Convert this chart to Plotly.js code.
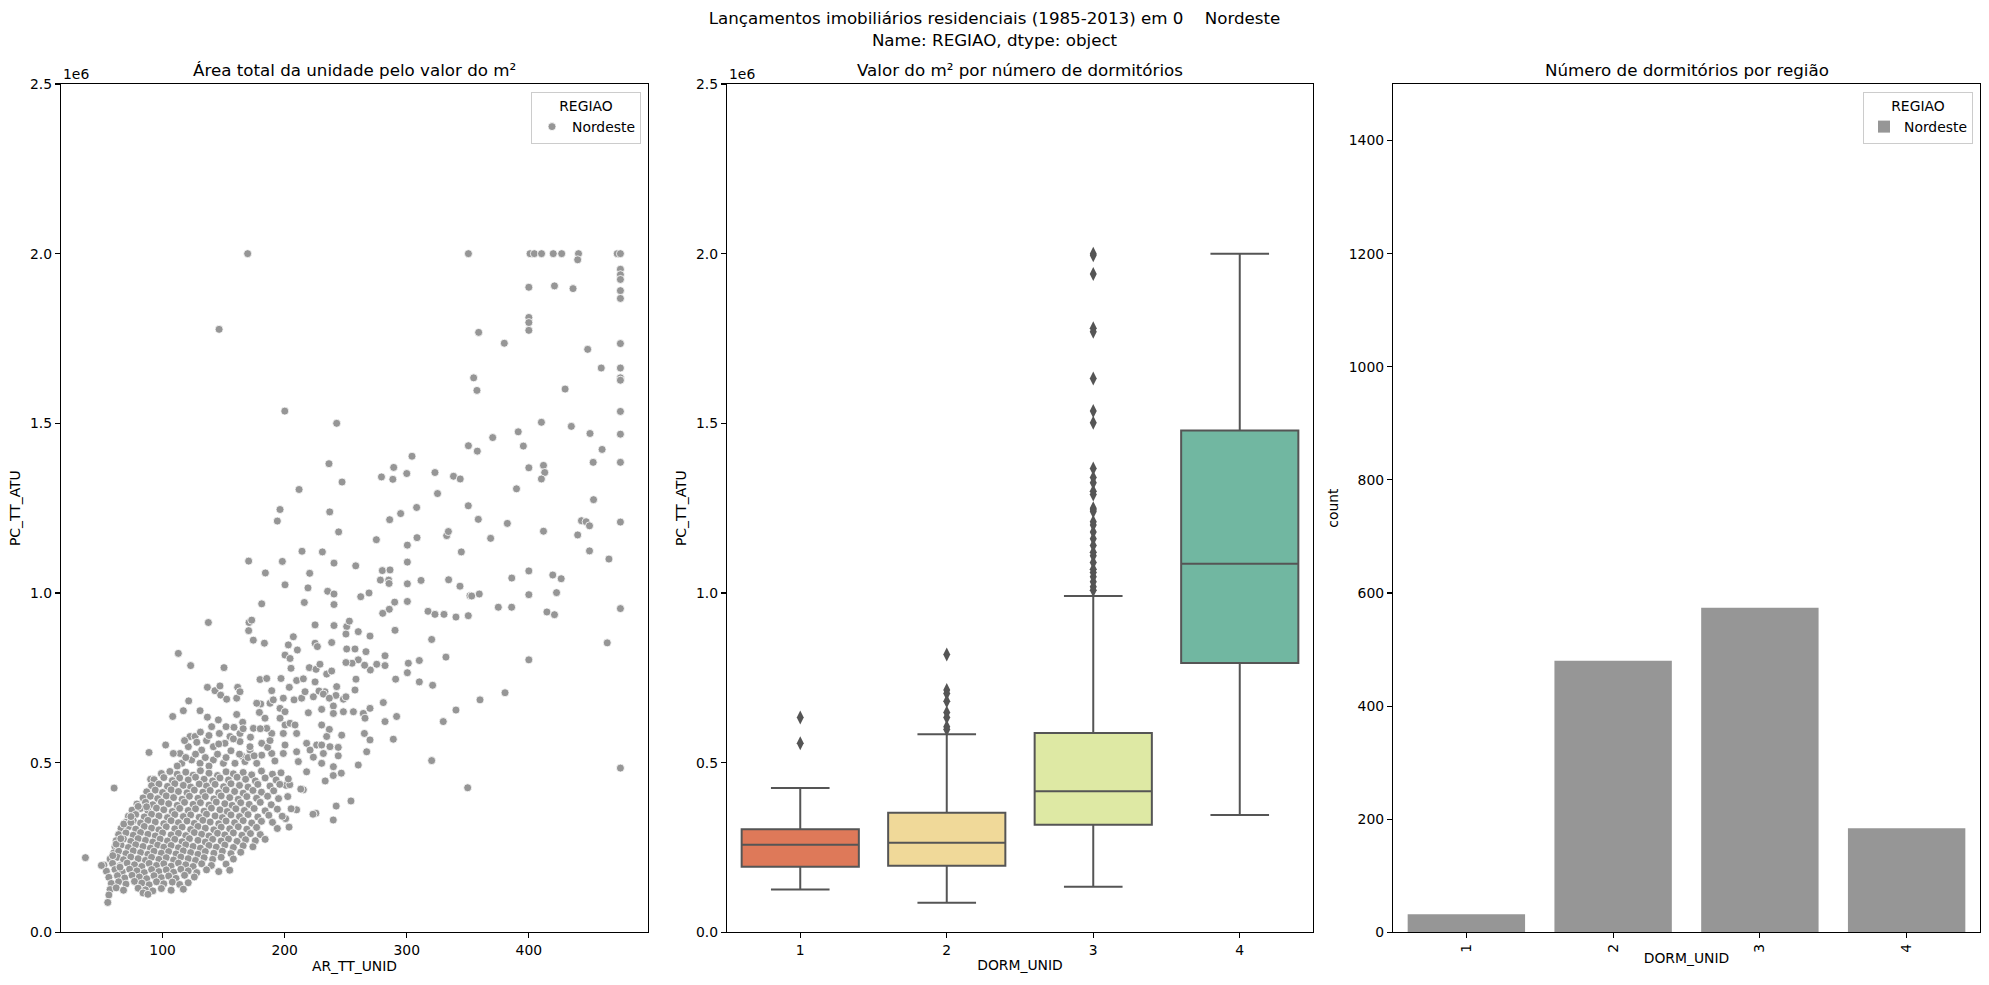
<!DOCTYPE html>
<html>
<head>
<meta charset="utf-8">
<script src="https://cdn.plot.ly/plotly-3.0.1.min.js"></script>
<style>
  html, body { margin: 0; padding: 0; background: #ffffff; }
  #chart { width: 1989px; height: 985px; }
</style>
</head>
<body>
<div id="chart"></div>
<script>
// ---------------- data ----------------
const regiao = 'Nordeste';
const dormitorios = ['1', '2', '3', '4'];

// units launched per number of bedrooms
const contagemDorm = [32, 480, 574, 184];

// price distribution per number of bedrooms (R$ millions)
const q1Dorm = [0.193, 0.196, 0.317, 0.794];
const medianaDorm = [0.258, 0.264, 0.416, 1.086];
const q3Dorm = [0.304, 0.352, 0.587, 1.479];
const bigodeInf = [0.126, 0.087, 0.134, 0.346];
const bigodeSup = [0.425, 0.584, 0.991, 2.0];
const atipicos1 = [0.633, 0.557];
const atipicos2 = [0.819, 0.714, 0.704, 0.681, 0.648, 0.633, 0.606, 0.598];
const atipicos3 = [2.0, 1.995, 1.94, 1.78, 1.77, 1.632, 1.536, 1.502, 1.367, 1.34, 1.325, 1.30, 1.29,
                   1.25, 1.245, 1.24, 1.21, 1.20, 1.18, 1.16, 1.14, 1.12, 1.11, 1.09, 1.07, 1.06,
                   1.048, 1.033, 1.018, 1.008];
const atipicos4 = [];
const coresDorm = ['#de7959', '#f0d999', '#dee9a4', '#71b7a1'];

// unit area (m²) vs. price (R$ millions)
const pontosAltos = [
  [169.7,2.0],[146.3,1.777],[350.5,2.0],[401,2.0],[404.5,2.0],[410.4,2.0],[420,2.0],[426.9,2.0],
  [440.7,2.0],[440,1.982],[472.4,2.0],[475,2.0],[475,1.954],[475,1.938],[475,1.924],[475,1.891],
  [475,1.868],[400,1.901],[421,1.905],[436.2,1.897],[400,1.812],[400,1.797],[400,1.774],[358.9,1.768],
  [379.9,1.736],[448.2,1.718],[475,1.735],[354.8,1.634],[357.5,1.597],[459.3,1.663],[475,1.663],
  [475,1.634],[475,1.627],[429.7,1.601],[200.1,1.536],[242.6,1.5],[410.3,1.503],[434.8,1.491],
  [475,1.535],[391.3,1.475],[450.1,1.47],[475,1.468],[370.4,1.458],[350.5,1.434],[357.8,1.418],
  [395.5,1.433],[460,1.423],[304.3,1.403],[236.3,1.381],[452.7,1.385],[475,1.385],[400,1.369],
  [412,1.376],[413,1.355],[289.3,1.37],[279.3,1.342],[288.6,1.335],[300,1.352],[323.1,1.355],
  [338.3,1.344],[343.8,1.336],[247,1.327],[211.8,1.305],[325.2,1.293],[389.9,1.307],[410.3,1.336],
  [453,1.275]
];

const pontosMedios = [
  [194,1.212],[196.2,1.246],[236.9,1.239],[244.2,1.18],[286,1.216],[295,1.234],[308.1,1.252],
  [275.1,1.157],[308.4,1.163],[350.4,1.257],[358.6,1.217],[382.4,1.205],[368.7,1.161],[332.7,1.169],
  [334.1,1.181],[344.7,1.121],[300.5,1.141],[300.5,1.091],[170.5,1.094],[198.1,1.093],[214.2,1.123],
  [230.9,1.121],[240.4,1.088],[258.2,1.08],[280,1.066],[286.3,1.068],[300.5,1.027],[311.7,1.037],
  [334.3,1.039],[343.6,1.02],[351.8,0.992],[353.2,0.991],[359.4,0.997],[375,0.958],[385.9,0.958],
  [278.4,1.038],[285.2,1.038],[285.5,1.028],[184.2,1.059],[200.3,1.024],[220.5,1.058],[219.1,1.015],
  [235.2,1.005],[240.4,0.997],[240.4,0.966],[262.3,0.989],[269.1,1.0],[300.5,0.975],[290.1,0.973],
  [285.7,0.952],[280.3,0.94],[317.4,0.946],[323.1,0.937],[330.5,0.937],[340.3,0.929],[350.4,0.933],
  [181.2,0.968],[216.1,0.972],[386,1.044],
  [400,1.065],[400,0.995],[419.6,1.053],[426.5,1.042],[422.7,1.001],[414.8,0.944],[421,0.936],
  [475,0.954],[400,0.803],[464.2,0.853],[475,0.484],[412,1.182],[440,1.171],[443.1,1.213],
  [446.9,1.21],[449.7,1.198],[449.7,1.124],[465.6,1.1],[475,1.209],[349.9,0.426],
  [137.5,0.913],[170.8,0.913],[173,0.92],[224.9,0.906],[240.4,0.904],[250.8,0.901],[253,0.917],
  [170.5,0.889],[174.3,0.861],[183.4,0.852],[250.2,0.879],[260.3,0.886],[269.9,0.873],[290.4,0.89],
  [320.4,0.863],[332.1,0.811],[301.3,0.793],[310.3,0.801],[300.5,0.765],[310.3,0.738],[321.2,0.728],
  [290.9,0.746],[282.2,0.815],[282.2,0.786],[275.4,0.79],[270.2,0.773],[265.5,0.787],[260.3,0.803],
  [255.2,0.793],[250.2,0.795],
  [207.1,0.871],[203,0.847],[210.4,0.832],[200.3,0.817],[204.4,0.807],[205.2,0.778],[224.9,0.852],
  [226.8,0.842],[238.5,0.854],[250.8,0.835],[257.6,0.835],[266.6,0.827],
  [220.2,0.78],[225.7,0.775],[234.4,0.761],[238.5,0.77],[228.9,0.79],[258.4,0.746],
  [179.8,0.745],[185.3,0.748],[197,0.748],[203.8,0.722],[209.8,0.742],[215.3,0.747],[224.9,0.738],
  [233,0.709],[242,0.698],[257.6,0.714],[242.6,0.724],[248.1,0.687],[250.2,0.694],
  [189.4,0.712],[188,0.675],[190.7,0.685],[198.9,0.69],[207.7,0.685],[213.9,0.69],[216.7,0.709],
  [223.5,0.694],[228.1,0.711],[231.7,0.702],[236.6,0.69],
  [180.4,0.673],[183.9,0.631],[174.4,0.601],[165.6,0.619],[160.7,0.642],[179.3,0.648],[177.1,0.675],
  [196.2,0.66],[200.3,0.65],[196.2,0.631],
  [200.3,0.611],[204.4,0.616],[208.5,0.611],[209.8,0.586],[198.9,0.586],[189.4,0.586],[185.3,0.601],
  [200.3,0.552],[198.9,0.527],[189.4,0.527],[181.2,0.522],[177.1,0.498],[165.6,0.518],[171.6,0.537],
  [181.2,0.557],
  [219.4,0.647],[230.3,0.657],[239.9,0.667],[248.1,0.65],[256.3,0.65],[239.9,0.645],[264.4,0.645],
  [269.9,0.66],[280.8,0.677],[291.7,0.636],[282.2,0.621],[265.8,0.631],[265.3,0.586],[269.9,0.567],
  [246.7,0.581],[236.6,0.598],[230.3,0.611],[218,0.557],[220.8,0.537],[226.2,0.552],[230.3,0.552],
  [231.7,0.527],[237.1,0.547],[243.9,0.545],[243.9,0.52],[234.4,0.577],[209.8,0.532],[211.2,0.503],
  [223.5,0.516],[230.3,0.498],[239.9,0.488],[260.3,0.493],[267.2,0.532],[289,0.569],[320.4,0.506],
  [329.9,0.621],[340.3,0.655],[360,0.685],[380.5,0.706],
  [136.7,0.722],[142.9,0.712],[147,0.726],[147.6,0.699],[152.5,0.687],[160.7,0.69],[161.5,0.722],
  [163.4,0.709],[112.9,0.822],[123,0.786],[150.3,0.78],
  [121.4,0.682],[130.7,0.653],[117,0.653],[108.3,0.636],[136.7,0.634],[145.7,0.626],[152,0.606],
  [158.5,0.604],[140.2,0.606],[146.5,0.586],[155.2,0.577],[163.4,0.586],[163.4,0.562],[171.6,0.547],
  [151.1,0.557],[141.6,0.547],[132,0.537],[122.5,0.577],[126.6,0.577],[121.1,0.547],[114.3,0.527],
  [108.8,0.527],[130.7,0.498],[141.6,0.508],[149.8,0.498],[159.3,0.498],[167.5,0.503],[123.8,0.508],
  [115.7,0.498],
  [112,0.49],[119,0.515],[127,0.525],[135,0.515],[138,0.49],[145,0.525],[152,0.515],[156,0.535],
  [163,0.525],[170,0.515],[175,0.52],[186,0.545],[192,0.505],[128,0.56],[136,0.565],[146,0.555],
  [158,0.57],[166,0.6],[172,0.575],[180,0.6],[188,0.565],[118,0.565],[131,0.59],[138,0.58],
  [242.2,0.372],[239.8,0.331],[254.3,0.387],[225.6,0.351],[223.2,0.348],[215.3,0.42],[213.2,0.422],
  [209.8,0.361],[203.6,0.31],[200.8,0.335],[205.3,0.364],[202.5,0.4],[201.1,0.433],[204.2,0.435],
  [218,0.473],[233.2,0.446],[239.8,0.462],[246.4,0.469],
  [60.3,0.425],[88.9,0.53],[102.5,0.552],[90.2,0.451]
];

const pontosNucleo = [
  [99,.468],[106,.474],[112,.466],[119,.472],[125,.463],[131,.476],[138,.469],[145,.462],[152,.473],
  [158,.467],[166,.471],[173,.464],[181,.475],[190,.466],[197,.470],
  [93,.450],[101,.456],[108,.447],[114,.455],[121,.449],[127,.457],[134,.451],[141,.446],[147,.455],
  [154,.449],[161,.457],[168,.451],[176,.446],[184,.455],[193,.449],[203,.452],
  [91,.432],[97,.437],[104,.430],[110,.438],[117,.433],[123,.428],[130,.437],[136,.431],[143,.436],
  [150,.429],[156,.438],[163,.433],[170,.428],[178,.436],[188,.431],[196,.436],
  [87,.414],[94,.419],[100,.412],[107,.420],[113,.415],[120,.411],[126,.419],[133,.413],[139,.418],
  [146,.411],[152,.420],[159,.415],[166,.410],[174,.418],[181,.413],[191,.417],
  [84,.396],[90,.401],[96,.394],[103,.402],[109,.397],[116,.392],[122,.401],[129,.395],[135,.400],
  [142,.393],[148,.402],[155,.397],[162,.392],[169,.400],[177,.395],[186,.401],[195,.394],
  [79,.378],[86,.383],[92,.376],[99,.384],[105,.379],[112,.374],[118,.383],[125,.377],[131,.382],
  [138,.375],[144,.384],[151,.379],[157,.374],[164,.382],[171,.377],[180,.383],[189,.376],
  [75,.360],[82,.365],[88,.358],[95,.366],[101,.361],[108,.356],[114,.365],[121,.359],[127,.364],
  [134,.357],[140,.366],[147,.361],[153,.356],[160,.364],[167,.359],[175,.365],[184,.358],[194,.363],
  [72,.342],[78,.347],[85,.340],[91,.348],[97,.343],[104,.338],[110,.347],[117,.341],[123,.346],
  [130,.339],[136,.348],[143,.343],[149,.338],[156,.346],[163,.341],[170,.347],[178,.340],[187,.345],
  [198,.342],
  [70,.324],[76,.329],[82,.322],[88,.330],[94,.325],[101,.320],[107,.329],[113,.323],[120,.328],
  [126,.321],[133,.330],[139,.325],[146,.320],[152,.328],[159,.323],[166,.329],[173,.322],[181,.327],
  [190,.324],
  [66,.306],[72,.311],[78,.304],[85,.312],[91,.307],[97,.302],[103,.311],[110,.305],[116,.310],
  [123,.303],[129,.312],[135,.307],[142,.302],[148,.310],[155,.305],[162,.311],[169,.304],[177,.309],
  [194,.306],
  [64,.288],[70,.293],[76,.286],[82,.294],[88,.289],[94,.284],[100,.293],[107,.287],[113,.292],
  [119,.285],[126,.294],[132,.289],[138,.284],[145,.292],[151,.287],[158,.293],[165,.286],[172,.291],
  [180,.288],
  [62,.270],[68,.275],[74,.268],[80,.276],[86,.271],[92,.266],[98,.275],[104,.269],[110,.274],
  [116,.267],[122,.276],[129,.271],[135,.266],[141,.274],[148,.269],[154,.275],[161,.268],[168,.273],
  [176,.270],[184,.274],
  [61,.252],[66,.257],[72,.250],[78,.258],[84,.253],[90,.248],[96,.257],[101,.251],[107,.256],
  [113,.249],[119,.258],[125,.253],[131,.248],[138,.256],[144,.251],[151,.257],[158,.250],[166,.255],
  [174,.252],
  [60,.234],[64,.239],[70,.232],[76,.240],[82,.235],[88,.230],[93,.239],[99,.233],[105,.238],
  [111,.231],[117,.240],[123,.235],[129,.230],[135,.238],[142,.233],[149,.239],[156,.232],[164,.236],
  [57,.216],[63,.221],[68,.214],[74,.222],[80,.217],[86,.212],[91,.221],[97,.215],[103,.220],
  [109,.213],[115,.222],[121,.217],[127,.212],[134,.220],[141,.215],[148,.221],[158,.216],
  [52,.198],[59,.203],[65,.196],[71,.204],[77,.199],[83,.194],[89,.203],[95,.197],[101,.202],
  [107,.195],[113,.204],[119,.199],[125,.194],[132,.202],[140,.197],[152,.201],
  [54,.180],[61,.185],[67,.178],[73,.186],[79,.181],[85,.176],[91,.185],[97,.179],[103,.184],
  [109,.177],[115,.186],[121,.181],[128,.176],[136,.184],[146,.179],[155,.183],
  [56,.162],[63,.167],[69,.160],[75,.168],[81,.163],[87,.158],[93,.167],[99,.161],[105,.166],
  [111,.159],[118,.168],[126,.163],
  [58,.144],[64,.149],[70,.142],[77,.150],[83,.145],[89,.140],[95,.149],[101,.143],[108,.148],
  [114,.141],[121,.146],
  [57,.126],[62,.131],[68,.124],[80,.130],[86,.125],[92,.122],[99,.129],[107,.124],[117,.127],
  [56,.110],[84,.116],[88,.112],[55.1,.088],
  [36.8,.220],[49.9,.197],[59.2,.226],[65.1,.192],[62,.260],[65.8,.276],[68.2,.319],[74.1,.324],
  [74.1,.341],[80,.371],[86.9,.370]
];

// ---------------- drawing ----------------
const pontos = pontosAltos.concat(pontosMedios, pontosNucleo);
const cinza = '#969696';
const linhaBox = '#555555';
const fonte = { family: 'DejaVu Sans, sans-serif', size: 13.9, color: '#000000' };
const fonteTitulo = { family: 'DejaVu Sans, sans-serif', size: 16.7, color: '#000000' };

const traces = [];

// scatter: area vs price
traces.push({
  type: 'scatter', mode: 'markers', xaxis: 'x', yaxis: 'y',
  x: pontos.map(p => p[0]), y: pontos.map(p => p[1]),
  name: regiao, legend: 'legend',
  marker: { color: cinza, size: 8, line: { color: '#ffffff', width: 0.8 } },
  hoverinfo: 'skip'
});

// boxes: price per bedroom count
dormitorios.forEach((d, i) => {
  traces.push({
    type: 'box', xaxis: 'x2', yaxis: 'y2',
    x: [d], q1: [q1Dorm[i]], median: [medianaDorm[i]], q3: [q3Dorm[i]],
    lowerfence: [bigodeInf[i]], upperfence: [bigodeSup[i]],
    fillcolor: coresDorm[i], line: { color: linhaBox, width: 2 },
    width: 0.8, whiskerwidth: 0.5, boxpoints: false,
    showlegend: false, hoverinfo: 'skip'
  });
});

const atipicos = [atipicos1, atipicos2, atipicos3, atipicos4];
const atipX = [], atipY = [];
atipicos.forEach((lista, i) => lista.forEach(v => { atipX.push(dormitorios[i]); atipY.push(v); }));
traces.push({
  type: 'scatter', mode: 'markers', xaxis: 'x2', yaxis: 'y2',
  x: atipX, y: atipY, showlegend: false, hoverinfo: 'skip',
  marker: { symbol: 'diamond-tall', color: linhaBox, size: 10, line: { width: 0 } }
});

// bars: count per bedroom number
traces.push({
  type: 'bar', xaxis: 'x3', yaxis: 'y3',
  x: dormitorios, y: contagemDorm, width: 0.8,
  name: regiao, legend: 'legend2',
  marker: { color: cinza, line: { width: 0 } },
  hoverinfo: 'skip'
});

const W = 1989, H = 985;
const dom = (a, b) => [a / W, b / W];
const yDom = [(H - 932.3) / H, (H - 84) / H];

const eixo = {
  showline: true, linecolor: '#000000', linewidth: 1.1, mirror: true,
  ticks: 'outside', ticklen: 5, tickwidth: 1.1, tickcolor: '#000000',
  showgrid: false, zeroline: false, tickfont: fonte, fixedrange: true
};
const eixoMilhoes = Object.assign({}, eixo, {
  range: [0, 2.5], tickvals: [0, 0.5, 1.0, 1.5, 2.0, 2.5], tickformat: '.1f'
});

const layout = {
  width: W, height: H,
  margin: { l: 0, r: 0, t: 0, b: 0 },
  paper_bgcolor: '#ffffff', plot_bgcolor: '#ffffff',
  font: fonte, hovermode: false, boxmode: 'overlay',
  title: {
    text: 'Lançamentos imobiliários residenciais (1985-2013) em 0\u00a0\u00a0\u00a0\u00a0Nordeste<br>Name: REGIAO, dtype: object',
    font: fonteTitulo, x: 0.5, xanchor: 'center', y: 1 - 24 / H, yanchor: 'top'
  },
  xaxis: Object.assign({}, eixo, {
    domain: dom(61, 648), range: [16.8, 497.6], tickvals: [100, 200, 300, 400],
    title: { text: 'AR_TT_UNID', font: fonte, standoff: 3 }
  }),
  yaxis: Object.assign({}, eixoMilhoes, {
    domain: yDom, title: { text: 'PC_TT_ATU', font: fonte, standoff: 6 }
  }),
  xaxis2: Object.assign({}, eixo, {
    domain: dom(727, 1313), type: 'category', categoryorder: 'array', categoryarray: dormitorios,
    range: [-0.5, 3.5], title: { text: 'DORM_UNID', font: fonte, standoff: 3 }
  }),
  yaxis2: Object.assign({}, eixoMilhoes, {
    domain: yDom, anchor: 'x2', title: { text: 'PC_TT_ATU', font: fonte, standoff: 6 }
  }),
  xaxis3: Object.assign({}, eixo, {
    domain: dom(1393, 1980), type: 'category', categoryorder: 'array', categoryarray: dormitorios,
    range: [-0.5, 3.5], tickangle: -90, title: { text: 'DORM_UNID', font: fonte, standoff: 1 }
  }),
  yaxis3: Object.assign({}, eixo, {
    domain: yDom, anchor: 'x3', range: [0, 1500], tickvals: [0, 200, 400, 600, 800, 1000, 1200, 1400],
    title: { text: 'count', font: fonte, standoff: 6 }
  }),
  legend: {
    x: 641 / W, xanchor: 'right', y: (H - 92) / H, yanchor: 'top',
    bgcolor: 'rgba(255,255,255,0.8)', bordercolor: '#cccccc', borderwidth: 1,
    font: fonte, title: { text: 'REGIAO', font: fonte, side: 'top center' }
  },
  legend2: {
    x: 1973 / W, xanchor: 'right', y: (H - 92) / H, yanchor: 'top',
    bgcolor: 'rgba(255,255,255,0.8)', bordercolor: '#cccccc', borderwidth: 1,
    font: fonte, title: { text: 'REGIAO', font: fonte, side: 'top center' }
  },
  annotations: [
    { text: 'Área total da unidade pelo valor do m²', x: (61 + 648) / 2 / W, y: (H - 70) / H,
      xref: 'paper', yref: 'paper', xanchor: 'center', yanchor: 'middle', showarrow: false, font: fonteTitulo },
    { text: 'Valor do m² por número de dormitórios', x: (727 + 1313) / 2 / W, y: (H - 70) / H,
      xref: 'paper', yref: 'paper', xanchor: 'center', yanchor: 'middle', showarrow: false, font: fonteTitulo },
    { text: 'Número de dormitórios por região', x: (1393 + 1980) / 2 / W, y: (H - 70) / H,
      xref: 'paper', yref: 'paper', xanchor: 'center', yanchor: 'middle', showarrow: false, font: fonteTitulo },
    { text: '1e6', x: 61 / W, y: (H - 84) / H, xref: 'paper', yref: 'paper',
      xanchor: 'left', yanchor: 'bottom', showarrow: false, font: fonte },
    { text: '1e6', x: 727 / W, y: (H - 84) / H, xref: 'paper', yref: 'paper',
      xanchor: 'left', yanchor: 'bottom', showarrow: false, font: fonte }
  ]
};

Plotly.newPlot('chart', traces, layout, { staticPlot: true, displayModeBar: false });
</script>
</body>
</html>
